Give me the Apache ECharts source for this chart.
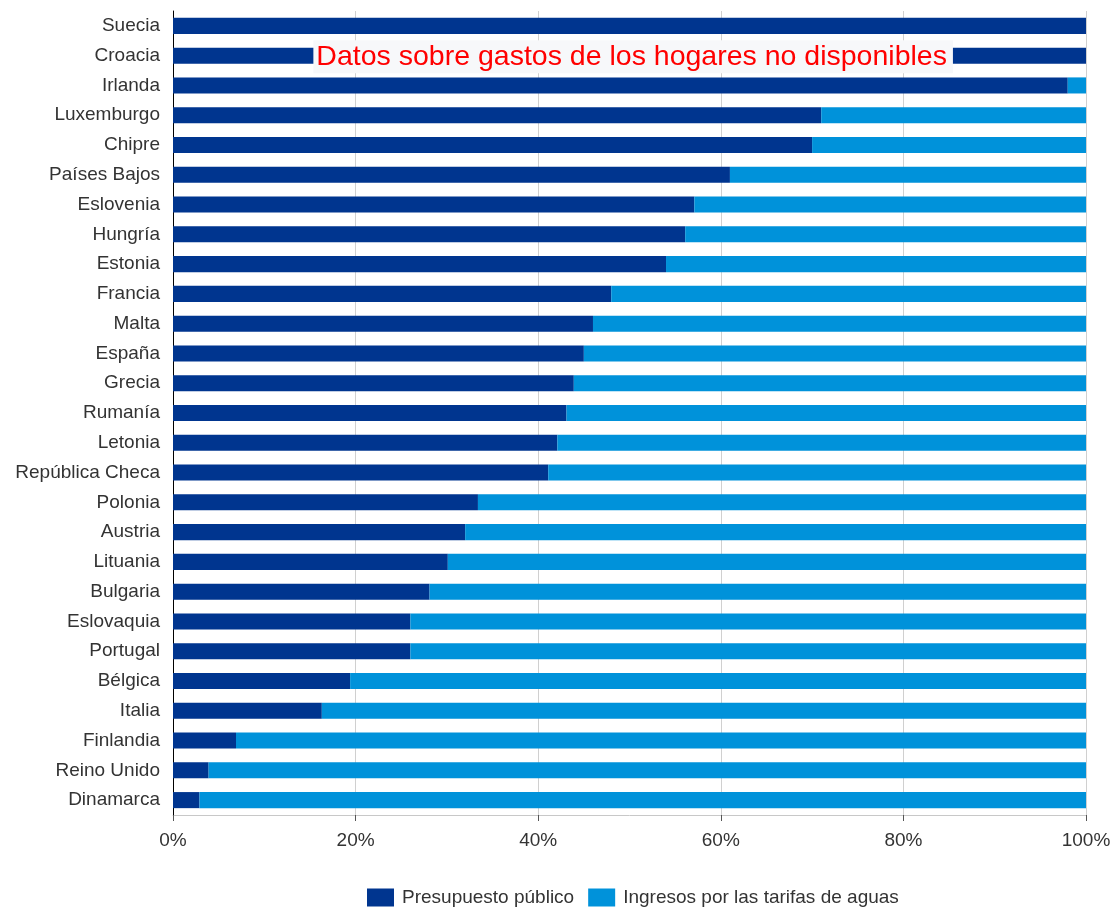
<!DOCTYPE html>
<html>
<head>
<meta charset="utf-8">
<script src="https://cdn.jsdelivr.net/npm/echarts@6/dist/echarts.min.js"></script>
<style>
  html, body { margin: 0; padding: 0; background: #ffffff; }
  #chart { width: 1114px; height: 908px; }
</style>
</head>
<body>
<div id="chart"></div>
<script>
// Countries, top to bottom
const countries = [
  'Suecia', 'Croacia', 'Irlanda', 'Luxemburgo', 'Chipre', 'Países Bajos',
  'Eslovenia', 'Hungría', 'Estonia', 'Francia', 'Malta', 'España', 'Grecia',
  'Rumanía', 'Letonia', 'República Checa', 'Polonia', 'Austria', 'Lituania',
  'Bulgaria', 'Eslovaquia', 'Portugal', 'Bélgica', 'Italia', 'Finlandia',
  'Reino Unido', 'Dinamarca'
];

// Share financed by the public budget (%)
const presupuestoPublico = [
  100, 100, 98.0, 71.0, 70.0, 61.0,
  57.1, 56.1, 54.0, 48.0, 46.0, 45.0, 43.9,
  43.1, 42.1, 41.1, 33.4, 32.0, 30.1,
  28.1, 26.0, 26.0, 19.4, 16.3, 6.9,
  3.9, 2.9
];

// Share covered by water tariff revenue (%)
const ingresosTarifas = [
  0, 0, 2.0, 29.0, 30.0, 39.0,
  42.9, 43.9, 46.0, 52.0, 54.0, 55.0, 56.1,
  56.9, 57.9, 58.9, 66.6, 68.0, 69.9,
  71.9, 74.0, 74.0, 80.6, 83.7, 93.1,
  96.1, 97.1
];

const xTicks = [0, 20, 40, 60, 80, 100];

const seriesNames = ['Presupuesto público', 'Ingresos por las tarifas de aguas'];
const noteText = 'Datos sobre gastos de los hogares no disponibles';
const noteCountry = 'Croacia';

const DARK = '#00358f';
const LIGHT = '#0092da';
const FONT = '"Liberation Sans", Arial, sans-serif';

const chart = echarts.init(document.getElementById('chart'), null, { renderer: 'canvas' });

chart.setOption({
  animation: false,
  backgroundColor: '#ffffff',
  textStyle: { fontFamily: FONT },
  grid: { left: 173, right: 28, top: 11, bottom: 93, containLabel: false },
  legend: {
    data: seriesNames,
    left: 367,
    top: 888,
    padding: 0,
    itemWidth: 27,
    itemHeight: 18,
    itemGap: 14,
    icon: 'rect',
    textStyle: { fontFamily: FONT, fontSize: 19, color: '#333333', padding: [0, 0, 0, 3] }
  },
  xAxis: {
    type: 'value',
    min: xTicks[0],
    max: xTicks[xTicks.length - 1],
    interval: 20,
    axisLine: { show: true, lineStyle: { color: '#c8c8c8', width: 1 } },
    axisTick: { show: true, length: 6, lineStyle: { color: '#555555', width: 1 } },
    splitLine: { show: true, lineStyle: { color: '#d0d0d0', width: 1 } },
    axisLabel: {
      formatter: v => v + '%',
      fontFamily: FONT,
      fontSize: 19,
      color: '#333333',
      margin: 16
    }
  },
  yAxis: {
    type: 'category',
    data: countries,
    inverse: true,
    axisLine: { show: true, lineStyle: { color: '#000000', width: 1 } },
    axisTick: { show: false },
    splitLine: { show: false },
    axisLabel: { fontFamily: FONT, fontSize: 19, color: '#333333', margin: 13 }
  },
  series: [
    {
      name: seriesNames[0],
      type: 'bar',
      stack: 'total',
      data: presupuestoPublico,
      barWidth: '54%',
      itemStyle: { color: DARK }
    },
    {
      name: seriesNames[1],
      type: 'bar',
      stack: 'total',
      data: ingresosTarifas,
      barWidth: '54%',
      itemStyle: { color: LIGHT }
    }
  ]
});

// Note over the Croacia row, placed through the axes
const notePos = chart.convertToPixel({ gridIndex: 0 }, [50.4, noteCountry]);
chart.setOption({
  graphic: [{
    type: 'text',
    x: notePos[0],
    y: notePos[1] + 1,
    z: 100,
    style: {
      text: noteText,
      fontFamily: FONT,
      fontSize: 28.5,
      fill: '#ff0000',
      align: 'center',
      verticalAlign: 'middle',
      backgroundColor: '#f7f8fa',
      padding: [2, 6, 2, 3]
    }
  }]
});
</script>
</body>
</html>
